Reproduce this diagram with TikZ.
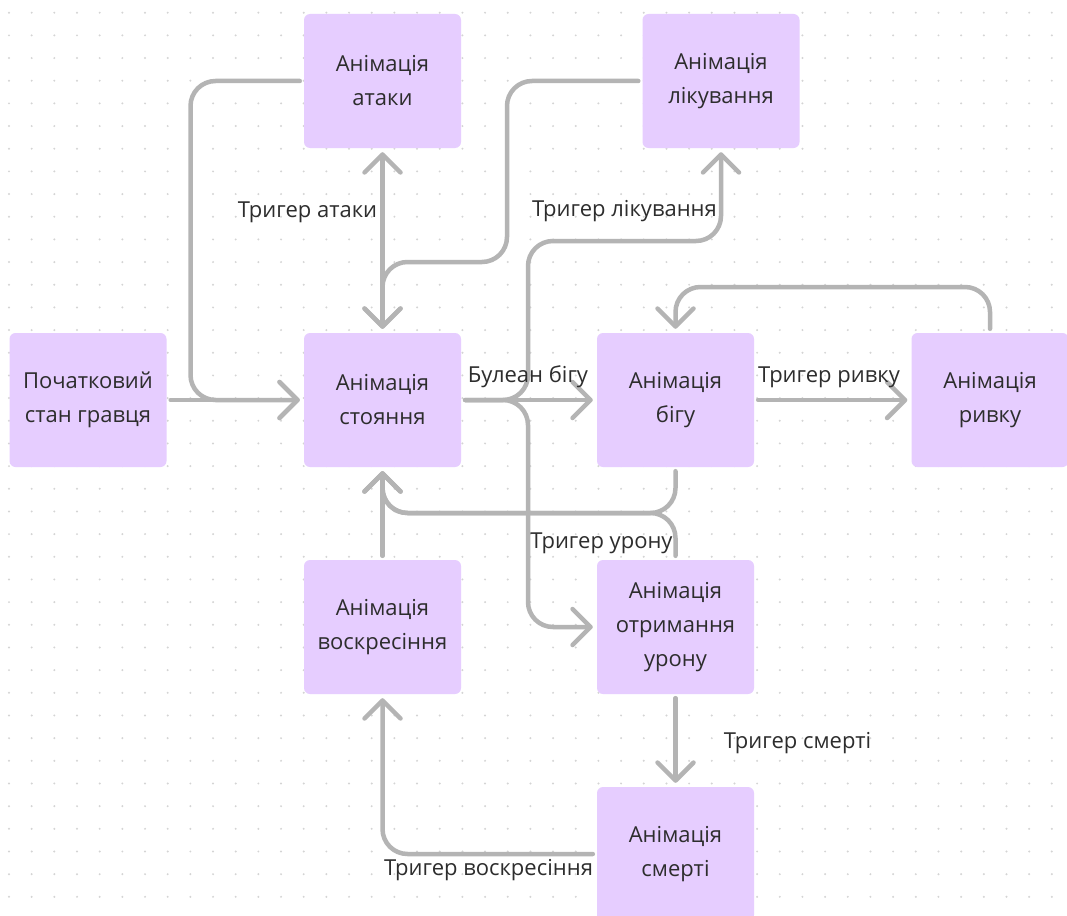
\documentclass[tikz,border=0pt]{standalone}
\usepackage{fontspec}
\setmainfont{Open Sans}
\usetikzlibrary{arrows.meta}
\definecolor{boxfill}{RGB}{230,205,255}
\definecolor{conncol}{RGB}{180,180,180}
\definecolor{txt}{RGB}{45,45,45}
\definecolor{dotc}{RGB}{212,212,212}
\begin{document}
\begin{tikzpicture}[x=1pt,y=-1pt,
  state/.style={fill=boxfill, rounded corners=6pt, minimum width=157pt, minimum height=134pt, inner sep=0pt, align=center, text=txt, font=\fontsize{22}{34}\selectfont},
  conn/.style={draw=conncol, line width=4.5pt, rounded corners=25pt, shorten <=4pt, shorten >=4pt, line cap=round},
  tip/.style={-{Straight Barb[length=18pt,width=36pt,round]}},
  lbl/.style={text=txt, font=\fontsize{22}{26}\selectfont, inner sep=0pt}]
\clip (0,0) rectangle (1067,915);
\fill[white] (0,0) rectangle (1067,915);
\foreach \i in {0,...,46} \foreach \j in {0,...,40} \fill[dotc] (9+22.67*\i, 12.7+22.67*\j) circle (1.1pt);

\node[state] (start) at (88,400) {Початковий\\стан гравця};
\node[state] (attack) at (382.5,81) {Анімація\\атаки};
\node[state] (heal) at (721,81) {Анімація\\лікування};
\node[state] (stand) at (382.5,400) {Анімація\\стояння};
\node[state] (run) at (675.5,400) {Анімація\\бігу};
\node[state] (dash) at (990,400) {Анімація\\ривку};
\node[state] (res) at (382.5,627) {Анімація\\воскресіння};
\node[state] (dmg) at (675.5,627) {Анімація\\отримання\\урону};
\node[state] (death) at (675.5,854) {Анімація\\смерті};

% connectors
\draw[conn,tip] (start.east) -- (stand.west);
\draw[conn,tip] (attack.west) -- (190.5,81) -- (190.5,400) -- (stand.west);
\draw[conn,{Straight Barb[length=18pt,width=36pt,round]}-{Straight Barb[length=18pt,width=36pt,round]}] (attack.south) -- (stand.north);
\draw[conn,tip] (heal.west) -- (507,81) -- (507,262) -- (382.5,262) -- (stand.north);
\draw[conn,tip] (stand.east) -- (run.west);
\draw[conn,tip] (stand.east) -- (528,400) -- (528,241) -- (721,241) -- (heal.south);
\draw[conn,tip] (stand.east) -- (528,400) -- (528,627) -- (dmg.west);
\draw[conn,tip] (run.south) -- (675.5,513) -- (382.5,513) -- (stand.south);
\draw[conn,tip] (dmg.north) -- (675.5,513) -- (382.5,513) -- (stand.south);
\draw[conn,tip] (res.north) -- (stand.south);
\draw[conn,tip] (dash.north) -- (990,287) -- (675.5,287) -- (run.north);
\draw[conn,tip] (run.east) -- (dash.west);
\draw[conn,tip] (dmg.south) -- (death.north);
\draw[conn,tip] (death.west) -- (382.5,854) -- (res.south);

% labels
\node[lbl] (l1) at (307.5,212) {Тригер атаки};
\node[lbl] (l2) at (624.5,211) {Тригер лікування};
\node[lbl] (l3) at (528,377) {Булеан бігу};
\node[lbl] (l4) at (601.5,543) {Тригер урону};
\node[lbl] (l5) at (829,377) {Тригер ривку};
\node[lbl] (l6) at (797.5,743) {Тригер смерті};
\node[lbl] (l7) at (488.5,870) {Тригер воскресіння};
\end{tikzpicture}
\end{document}
